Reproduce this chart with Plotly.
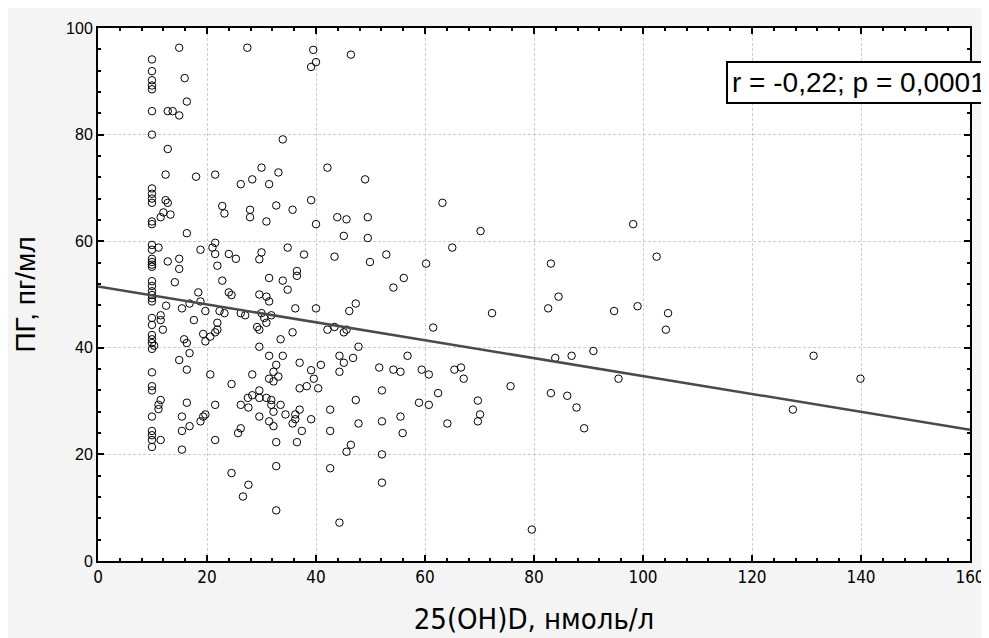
import plotly.graph_objects as go

# ---- data ----
vitd_col10 = [9.9] * 39
pg_col10 = [94.1, 91.9, 90.2, 89.2, 88.5, 84.4, 80.0, 69.9, 68.9, 68.0, 67.2, 63.7, 63.2,
            59.3, 58.4, 56.7, 56.1, 55.6, 55.2, 52.5, 51.6, 50.6, 49.9, 49.3, 48.7, 45.6,
            44.3, 42.4, 41.6, 40.9, 39.8, 35.4, 32.8, 32.0, 27.1, 24.4, 23.6, 22.7, 21.4]

vitd_other = [
    14.9, 27.4, 15.9, 16.3, 12.8, 13.7, 14.9, 12.8, 12.4, 18.0, 21.5, 26.2, 12.4, 12.8, 22.8, 23.2,
    27.9, 27.9, 12.0, 11.5, 13.3, 16.3, 11.1, 18.8, 21.5, 21.0, 21.5, 24.0, 25.3, 12.8, 14.9, 14.9,
    21.9, 14.1, 22.8,
    18.4, 18.8, 24.0, 24.5, 12.5, 15.4, 16.8, 19.7, 22.3, 23.2, 26.2, 27.0, 11.5, 11.5, 11.9, 17.6,
    21.9, 21.9, 21.5, 19.3, 19.7, 20.6, 10.3, 15.8, 16.3, 16.8, 14.9, 16.3, 20.6, 24.5, 11.5, 11.1,
    11.1, 16.3, 21.5, 26.2, 27.5, 27.6, 15.4, 16.8, 15.4, 19.7, 19.3, 18.8, 26.2, 25.7, 11.5, 21.5,
    15.4, 24.5, 27.6, 26.6,
    39.5, 40.0, 39.1, 46.4, 33.9, 30.0, 33.1, 28.3, 31.4, 42.1, 49.0, 32.7, 35.7, 30.9, 39.1, 40.0,
    43.9, 45.6, 49.5, 45.1, 49.5, 30.0, 29.6, 34.8, 37.8, 43.4, 49.9, 52.9, 31.4, 33.9, 36.5, 36.5,
    54.2, 56.1,
    34.8, 29.6, 30.9, 31.4, 36.2, 40.0, 47.3, 46.1, 30.0, 30.5, 31.8, 30.9, 29.2, 29.6, 35.7, 33.5,
    42.1, 43.4, 45.1, 45.6, 47.8, 29.6, 31.4, 33.9, 32.7, 37.0, 28.3, 32.2, 31.4, 32.2, 33.1, 39.1,
    40.9, 39.6, 38.3, 37.0, 40.4, 44.3, 45.1, 44.3, 46.8, 51.6, 54.2, 55.5, 52.1, 47.3, 29.6, 28.3,
    29.6, 30.9, 31.8, 31.8, 33.5, 32.2, 34.4, 36.2, 37.0, 36.2, 35.7, 39.1, 29.6, 31.4, 32.2, 37.4,
    42.6, 42.6, 47.8, 52.1, 55.5, 55.9, 32.7, 36.5, 46.4, 45.6, 52.1, 32.7, 42.6, 52.1, 32.7, 44.3,
    63.2, 70.2, 65.0, 60.2, 83.1,
    72.3, 61.5, 82.6, 84.5, 56.8, 59.4, 60.7, 65.4, 66.6, 67.1, 62.4, 58.9, 60.7, 64.1, 69.7, 70.1,
    69.7, 75.7, 83.9, 83.1, 79.6,
    98.2, 102.5,
    94.7, 99.0, 104.6, 104.2, 86.9, 90.9, 95.5, 86.1, 87.8, 89.2, 131.3, 139.9, 127.5,
]
pg_other = [
    96.3, 96.3, 90.6, 86.2, 84.4, 84.4, 83.6, 77.3, 72.5, 72.1, 72.5, 70.7, 67.7, 67.2, 66.6, 65.2,
    65.9, 64.5, 65.4, 64.5, 65.0, 61.5, 58.8, 58.4, 59.7, 58.8, 57.6, 57.6, 56.7, 56.2, 56.7, 54.8,
    55.4, 52.3, 52.6,
    50.4, 48.7, 50.4, 49.9, 47.9, 47.4, 48.3, 46.9, 46.9, 46.5, 46.5, 46.1, 46.1, 45.2, 43.4, 45.2,
    44.7, 43.4, 42.9, 42.6, 41.2, 42.1, 40.4, 41.6, 40.9, 39.0, 37.7, 35.9, 35.0, 33.2, 30.2, 29.3,
    28.5, 29.7, 29.3, 29.3, 30.6, 28.8, 27.1, 25.3, 24.4, 27.5, 27.1, 26.2, 24.9, 24.0, 22.7, 22.7,
    20.9, 16.5, 14.3, 12.1,
    95.9, 93.6, 92.7, 95.0, 79.1, 73.8, 72.9, 71.6, 70.7, 73.8, 71.6, 66.7, 65.9, 63.7, 67.7, 63.2,
    64.5, 64.1, 64.5, 61.0, 60.6, 57.9, 56.6, 58.8, 57.5, 57.1, 56.1, 57.5, 53.1, 52.6, 54.4, 53.5,
    51.3, 53.1,
    50.9, 50.0, 49.6, 48.7, 47.4, 47.4, 48.3, 46.9, 46.5, 45.6, 46.1, 44.7, 43.9, 43.4, 42.9, 41.6,
    43.4, 43.9, 42.9, 43.4, 40.2, 40.2, 38.5, 38.5, 36.8, 37.2, 35.0, 35.5, 34.2, 33.7, 34.6, 35.8,
    36.8, 34.2, 32.8, 32.4, 32.4, 38.5, 37.2, 35.5, 38.1, 36.3, 35.9, 35.5, 32.0, 30.2, 32.0, 31.1,
    30.6, 30.6, 30.2, 29.3, 29.3, 28.0, 27.5, 27.5, 28.4, 26.6, 25.8, 26.6, 27.1, 26.2, 25.3, 24.4,
    28.4, 24.4, 25.8, 26.2, 27.1, 24.0, 22.3, 22.3, 21.8, 20.5, 20.0, 17.8, 17.4, 14.7, 9.5, 7.2,
    67.2, 61.9, 58.8, 55.8, 55.8,
    46.5, 43.8, 47.4, 49.6, 38.5, 35.9, 35.0, 35.9, 36.3, 34.2, 31.5, 29.7, 29.3, 25.8, 30.1, 27.5,
    26.2, 32.8, 38.1, 31.5, 5.9,
    63.2, 57.1,
    46.9, 47.8, 46.5, 43.4, 38.5, 39.4, 34.2, 31.0, 28.8, 24.9, 38.5, 34.2, 28.4,
]

vitd = vitd_col10 + vitd_other
pg = pg_col10 + pg_other

reg_intercept = 51.5
reg_slope = -0.168
x_range = [0, 160]
y_range = [0, 100]
x_ticks = [0, 20, 40, 60, 80, 100, 120, 140, 160]
y_ticks = [0, 20, 40, 60, 80, 100]

annotation_text = "r = -0,22; p = 0,0001"
x_title = "25(OH)D, нмоль/л"
y_title = "ПГ, пг/мл"

FONT = "Arial, 'Liberation Sans', sans-serif"
NARROW = "'Liberation Sans Narrow', 'Arial Narrow', 'DejaVu Sans Condensed', sans-serif"

fig = go.Figure()
fig.add_trace(go.Scatter(
    x=vitd, y=pg, mode="markers",
    marker=dict(symbol="circle-open", size=7.5, color="black", line=dict(width=1)),
    showlegend=False, hoverinfo="x+y",
))
fig.add_trace(go.Scatter(
    x=x_range, y=[reg_intercept + reg_slope * v for v in x_range],
    mode="lines", line=dict(color="#4a4a4a", width=2.5),
    showlegend=False, hoverinfo="skip",
))

axis_common = dict(
    showline=True, linecolor="black", linewidth=2, mirror="allticks",
    ticks="inside", ticklen=6, tickwidth=1.5, tickcolor="black",
    showgrid=True, gridcolor="#cccccc", gridwidth=1, griddash="3px,2px",
    zeroline=False, automargin=False,
)

fig.update_xaxes(
    range=x_range, tickvals=x_ticks,
    tickfont=dict(family=NARROW, size=17, color="black"),
    minor=dict(dtick=4, ticks="inside", ticklen=3, tickcolor="black", showgrid=False),
    title=dict(text=x_title, font=dict(family=NARROW, size=29, color="black"), standoff=22),
    **axis_common,
)
fig.update_yaxes(
    range=y_range, tickvals=y_ticks,
    tickfont=dict(family=FONT, size=16, color="black"),
    minor=dict(dtick=4, ticks="inside", ticklen=3, tickcolor="black", showgrid=False),
    title=dict(text=y_title, font=dict(family=FONT, size=28, color="black"), standoff=22),
    **axis_common,
)

fig.add_annotation(
    xref="paper", yref="paper", x=0.7198, y=0.897, xanchor="left", yanchor="middle",
    text=annotation_text, showarrow=False,
    font=dict(family=FONT, size=28, color="black"),
    bordercolor="black", borderwidth=2, borderpad=4, bgcolor="white",
)

fig.update_layout(
    width=981, height=630,
    margin=dict(l=90, r=19, t=20, b=77),
    paper_bgcolor="#f4f4f4", plot_bgcolor="white",
    font=dict(family=FONT, color="black"),
)

fig.write_html("out.html")
